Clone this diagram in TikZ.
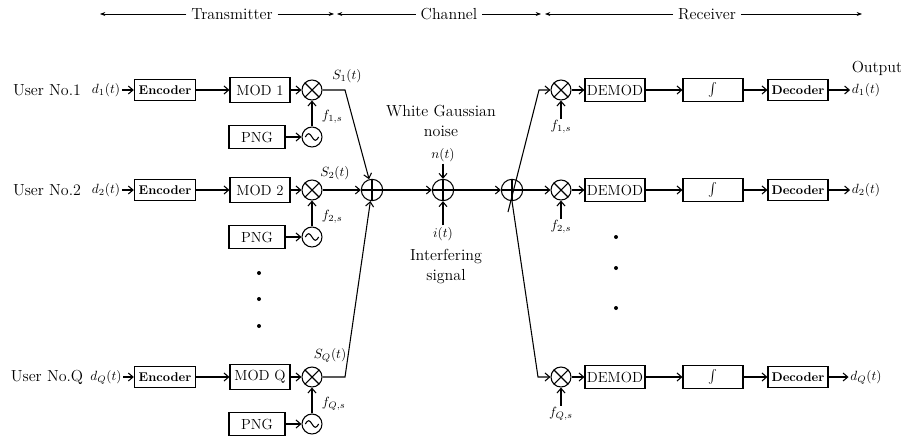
\documentclass[tikz,border=0pt]{standalone}
\usetikzlibrary{calc,arrows.meta}

\tikzset{
  blk/.style={draw, minimum width=45pt, minimum height=16pt, inner sep=1pt,
    font=\fontsize{11}{13}\selectfont},
  bblk/.style={blk, font=\fontsize{9.5}{11}\selectfont\bfseries},
  mixer/.style={draw, circle, minimum size=15pt, inner sep=0pt, path picture={
    \draw (path picture bounding box.north west) -- (path picture bounding box.south east)
          (path picture bounding box.north east) -- (path picture bounding box.south west);}},
  adder/.style={draw, circle, minimum size=16pt, inner sep=0pt, path picture={
    \draw (path picture bounding box.north) -- (path picture bounding box.south)
          (path picture bounding box.west) -- (path picture bounding box.east);}},
  osc/.style={draw, circle, minimum size=15pt, inner sep=0pt, path picture={
    \draw ([xshift=-5pt]path picture bounding box.center)
      sin ++(2.5pt,2.5pt) cos ++(2.5pt,-2.5pt) sin ++(2.5pt,-2.5pt) cos ++(2.5pt,2.5pt);}},
  lbl/.style={font=\fontsize{12}{15}\selectfont},
  sig/.style={inner sep=1pt},
  hdr/.style={line width=0.5pt, -{Stealth[length=4pt,width=3pt]}},
}

\begin{document}
\begin{tikzpicture}[x=0.75pt, y=-0.75pt, >={Straight Barb[length=3.5pt,width=6pt]}, line width=0.8pt]
    \useasboundingbox (0,0) rectangle (901,436);

    % Header with the three sections
    \node[lbl] (tx) at (232,14) {Transmitter};
    \node[lbl] (ch) at (449,14) {Channel};
    \node[lbl] (rx) at (707,14) {Receiver};
    \coordinate (txl) at (100,14);
    \coordinate (txr) at (334,14);
    \coordinate (chl) at (337,14);
    \coordinate (chr) at (541,14);
    \coordinate (rxl) at (545,14);
    \coordinate (rxr) at (862,14);
    \draw[hdr] (tx) -- (txl);
    \draw[hdr] (tx) -- (txr);
    \draw[hdr] (ch) -- (chl);
    \draw[hdr] (ch) -- (chr);
    \draw[hdr] (rx) -- (rxl);
    \draw[hdr] (rx) -- (rxr);

    % Transmitter rows
    \foreach \i/\y in {1/90, 2/190, Q/377} {
        \node[lbl] (user\i) at (47,\y) {User No.\i};
        \node[sig] (d\i) at (106,\y) {$d_{\i}(t)$};
        \node[bblk, minimum width=46pt] (enc\i) at (165,\y) {Encoder};
        \node[blk, minimum height=19pt] (mod\i) at (260,\y) {MOD \i};
        \node[mixer] (mx\i) at (312,\y) {};
        \node[blk, minimum width=42pt, minimum height=17pt] (png\i) at (257,\y+47) {PNG};
        \node[osc] (osc\i) at (312,\y+47) {};
        \node[sig, anchor=west] (f\i) at (320,\y+27) {$f_{\i,s}$};
        \draw[->] (d\i) -- (enc\i);
        \draw[->] (enc\i) -- (mod\i);
        \draw[->] (mod\i) -- (mx\i);
        \draw[->] (png\i) -- (osc\i);
        \draw[->] (osc\i) -- (mx\i);
    }

    % Transmitted signals
    \node[sig] (S1) at (347,76) {$S_1(t)$};
    \node[sig] (S2) at (335,173) {$S_2(t)$};
    \node[sig] (SQ) at (330,355) {$S_Q(t)$};

    % Dots between users
    \foreach \y in {273,299,326}
        \fill (259,\y) circle (1.5pt);

    % Channel
    \node[adder] (add1) at (372,190) {};
    \node[adder] (add2) at (443,190) {};
    \node[adder] (add3) at (512,190) {};
    \coordinate (s1) at (345,90);
    \coordinate (sQ) at (345,377);
    \draw[->] (mx1) -- (s1) -- (add1);
    \draw[->] (mx2) -- (add1);
    \draw[->] (mxQ) -- (sQ) -- (add1);
    \draw[->] (add1) -- (add2);
    \draw[->] (add2) -- (add3);

    \node[lbl, align=center] (wgn) at (441,121) {White Gaussian\\noise};
    \node[sig] (noise) at (443,155) {$n(t)$};
    \node[sig] (intf) at (443,234) {$i(t)$};
    \node[lbl, align=center] (itxt) at (446,267) {Interfering\\signal};
    \draw[->] (noise) -- (add2);
    \draw[->] (intf) -- (add2);

    % Receiver rows
    \foreach \i/\y in {1/90, 2/190, Q/377} {
        \node[mixer] (rmx\i) at (561,\y) {};
        \node[blk, minimum height=17pt] (dem\i) at (615,\y) {DEMOD};
        \node[blk, minimum height=17pt] (int\i) at (713,\y) {$\int$};
        \node[bblk] (dec\i) at (798,\y) {Decoder};
        \node[sig] (out\i) at (866,\y) {$d_{\i}(t)$};
        \node[sig] (rf\i) at (561,\y+37) {$f_{\i,s}$};
        \draw[->] (rf\i) -- (rmx\i);
        \draw[->] (rmx\i) -- (dem\i);
        \draw[->] (dem\i) -- (int\i);
        \draw[->] (int\i) -- (dec\i);
        \draw[->] (dec\i) -- (out\i);
    }
    \node[lbl] (outlbl) at (877,68) {Output};

    % Split to the receivers
    \coordinate (fan) at (508,212);
    \coordinate (r1) at (539,90);
    \coordinate (rQ) at (538,377);
    \draw[->] (fan) -- (r1) -- (rmx1);
    \draw[->] (add3) -- (rmx2);
    \draw[->] (add3.south) -- (rQ) -- (rmxQ);

    % Dots between receivers
    \foreach \y in {237,268,308}
        \fill (616,\y) circle (1.5pt);
\end{tikzpicture}
\end{document}
